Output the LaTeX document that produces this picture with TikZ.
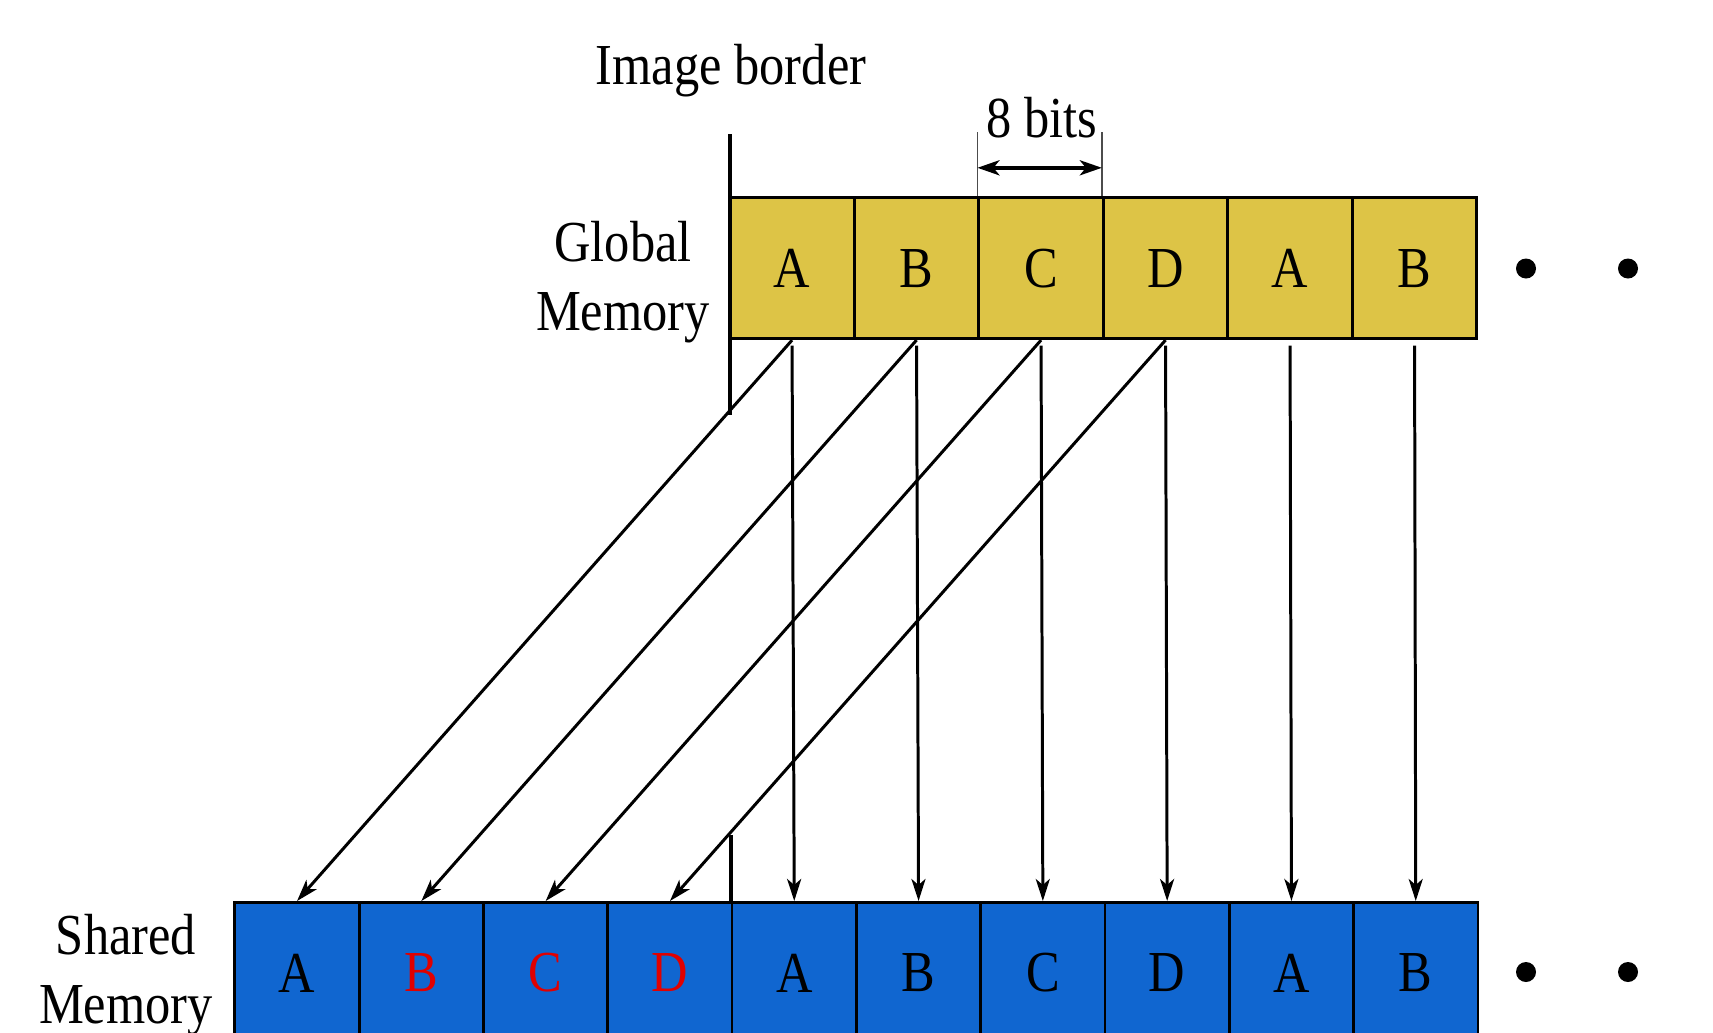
\documentclass[tikz,border=0pt]{standalone}
\usepackage{fontspec}
\setmainfont[FakeStretch=0.87]{Liberation Serif}
\usetikzlibrary{arrows.meta}
\definecolor{gmem}{RGB}{221,196,70}
\definecolor{smem}{RGB}{16,102,208}
\definecolor{redtxt}{RGB}{225,0,0}
\tikzset{
  cell/.style={draw,line width=0.8pt,minimum width=12.45mm,minimum height=14.1mm,inner sep=0pt,font=\fontsize{16.5}{19.8}\selectfont},
  lbl/.style={font=\fontsize{16.5}{19.8}\selectfont,align=center,inner sep=0pt},
  tip/.style={Stealth[length=2.2mm,width=1.4mm,inset=0.6mm]},
  mv/.style={-{Stealth[length=2.2mm,width=1.4mm,inset=0.6mm]},line width=0.85pt},
}
\begin{document}
\begin{tikzpicture}[x=0.1mm,y=-0.1mm]
\clip (0,0) rectangle (1713,1032);
% global memory row
\foreach \n [count=\i] in {A,B,C,D,A,B}
  \node[cell,fill=gmem] (g\i) at (729.8+124.5*\i-62.25,268.2) {\n};
% shared memory row
\foreach \n/\c [count=\i] in {A/black,B/redtxt,C/redtxt,D/redtxt,A/black,B/black,C/black,D/black,A/black,B/black}
  \node[cell,fill=smem,text=\c] (s\i) at (234.9+124.3*\i-62.15,972.9) {\n};
% labels
\node[lbl] (ib) at (731,71) {Image border};
\node[lbl] (eb) at (1042,118) {8 bits};
\node[lbl] (gm) at (623,282) {Global\\Memory};
\node[lbl] (sm) at (126,975) {Shared\\Memory};
% image border
\coordinate (bt) at (730,134);
\coordinate (bb) at (730,415);
\draw[line width=1.1pt] (bt) -- (bb);
\draw[line width=1.1pt] (s5.north west) -- ++(0,-66);
% 8 bits
\draw[line width=0.5pt,black!70] (g3.north west) -- ++(0,-64);
\draw[line width=0.5pt,black!70] (g4.north west) -- ++(0,-64);
\draw[{Stealth[length=2.2mm,width=1.5mm,inset=0.6mm]}-{Stealth[length=2.2mm,width=1.5mm,inset=0.6mm]},line width=1.1pt]
  ([yshift=2.85mm]g3.north west) -- ([yshift=2.85mm]g4.north west);
% moves
\foreach \i in {1,...,4}
  \draw[mv] (g\i.south) -- (s\i.north);
\foreach \i [evaluate=\i as \j using int(\i+4)] in {1,...,6}
  \draw[mv] ([yshift=-0.55mm]g\i.south) -- (s\j.north);
% dots
\foreach \x in {1526,1628} {
  \fill (\x,268.5) circle (1mm);
  \fill (\x,972) circle (1mm);
}
\end{tikzpicture}
\end{document}
